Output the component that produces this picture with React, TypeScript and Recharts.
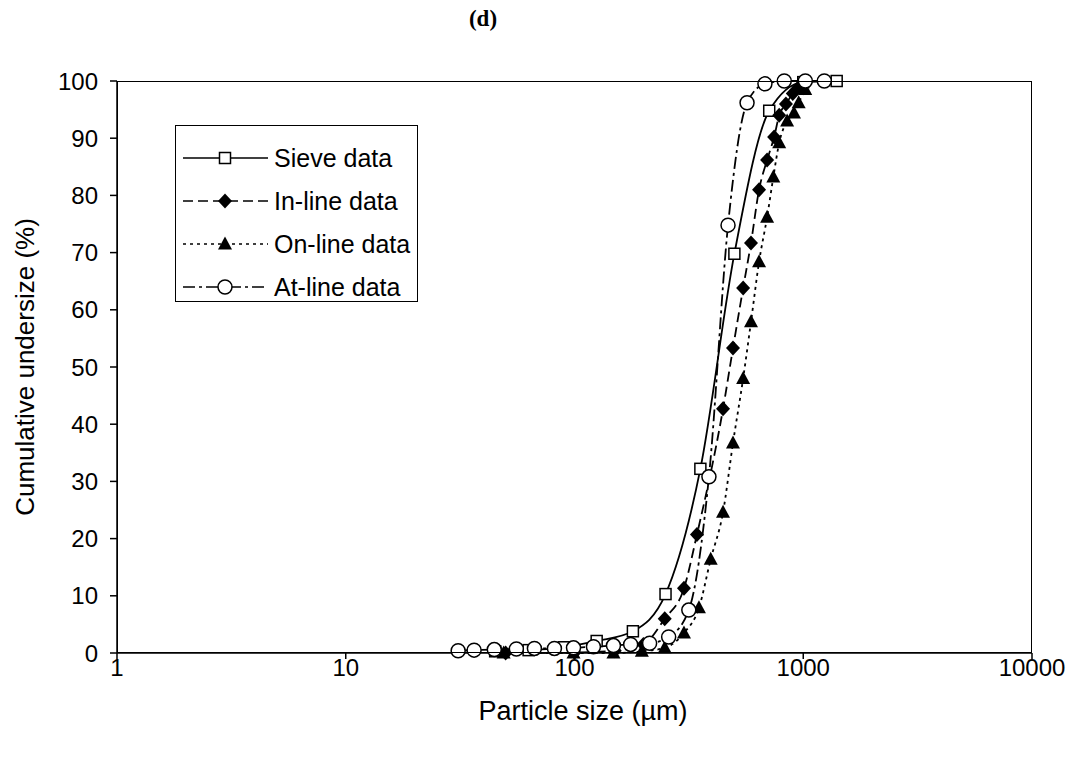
import React from "react";
import { Line, LineChart, XAxis, YAxis } from "recharts";

// particle sizes (µm) and cumulative undersize (%)
const sieveSize = [45, 63, 90, 125, 180, 250, 355, 500, 710, 1000, 1400];
const sieveValue = [0.3, 0.5, 1.0, 2.1, 3.8, 10.3, 32.2, 69.8, 94.8, 99.8, 100];

const inlineSize = [50, 100, 150, 200, 248, 301, 343, 446, 493, 546, 591, 641, 695, 746, 785, 840, 900, 960, 1020];
const inlineValue = [0, 0.1, 0.4, 1.5, 6.0, 11.3, 20.7, 42.7, 53.3, 63.8, 71.7, 81.0, 86.2, 90.2, 94.0, 96.0, 97.8, 99.0, 99.7];

const onlineSize = [49, 99, 148, 197, 248, 301, 350, 394, 446, 493, 546, 591, 641, 695, 740, 785, 850, 911, 955, 1020];
const onlineValue = [0, 0, 0, 0.3, 0.9, 3.5, 7.9, 16.4, 24.6, 36.7, 48.0, 57.9, 68.4, 76.2, 83.2, 89.2, 93.0, 94.4, 96.2, 98.5];

const atlineSize = [31, 36.4, 44.6, 55.7, 66.8, 81.7, 99, 121, 148, 176, 213, 258, 316, 387, 469, 568, 680, 826, 1021, 1236];
const atlineValue = [0.4, 0.5, 0.6, 0.7, 0.8, 0.8, 0.9, 1.1, 1.3, 1.5, 1.7, 2.8, 7.5, 30.8, 74.8, 96.2, 99.5, 100, 100, 100];

const xTicks = [1, 10, 100, 1000, 10000];
const yTicks = [0, 10, 20, 30, 40, 50, 60, 70, 80, 90, 100];

const toRows = (xs: number[], ys: number[]) => xs.map((x, i) => ({ x, y: ys[i] }));

const sieveData = toRows(sieveSize, sieveValue);
const inlineData = toRows(inlineSize, inlineValue);
const onlineData = toRows(onlineSize, onlineValue);
const atlineData = toRows(atlineSize, atlineValue);

const FONT = "Arial, 'Liberation Sans', sans-serif";

const Square = ({ cx, cy }: { cx: number; cy: number }) => (
  <rect x={cx - 5.5} y={cy - 5.5} width={11} height={11} fill="#fff" stroke="#000" strokeWidth={1.5} />
);
const Diamond = ({ cx, cy }: { cx: number; cy: number }) => (
  <polygon points={`${cx},${cy - 7.5} ${cx + 7},${cy} ${cx},${cy + 7.5} ${cx - 7},${cy}`} fill="#000" />
);
const Triangle = ({ cx, cy }: { cx: number; cy: number }) => (
  <polygon points={`${cx},${cy - 7.5} ${cx + 7},${cy + 5.5} ${cx - 7},${cy + 5.5}`} fill="#000" />
);
const Circle = ({ cx, cy }: { cx: number; cy: number }) => (
  <circle cx={cx} cy={cy} r={7} fill="#fff" stroke="#000" strokeWidth={1.5} />
);

const dotFor = (Shape: React.FC<{ cx: number; cy: number }>) => (props: any) => {
  const { cx, cy, index } = props;
  if (cx == null || cy == null) return <g key={index} />;
  return <Shape key={index} cx={cx} cy={cy} />;
};

const legendItems = [
  { name: "Sieve data", dash: undefined, Shape: Square },
  { name: "In-line data", dash: "10 5", Shape: Diamond },
  { name: "On-line data", dash: "3 4", Shape: Triangle },
  { name: "At-line data", dash: "12 4 3 4", Shape: Circle },
];

const App: React.FC = () => {
  return (
    <div style={{ position: "absolute", left: 0, top: 0, width: 1073, height: 758, background: "#fff", fontFamily: FONT }}>
      <div
        style={{
          position: "absolute",
          left: 0,
          width: 966,
          top: 6,
          textAlign: "center",
          fontFamily: "'Liberation Serif', 'Times New Roman', serif",
          fontWeight: "bold",
          fontSize: 23,
        }}
      >
        (d)
      </div>
      <LineChart width={1073} height={758} margin={{ top: 81, right: 41, bottom: 45, left: 57 }}>
        <XAxis
          dataKey="x"
          type="number"
          scale="log"
          domain={[1, 10000]}
          ticks={xTicks}
          allowDataOverflow
          height={60}
          stroke="#000"
          strokeWidth={1.5}
          tickSize={6}
          tickMargin={0}
          tick={{ fill: "#000", fontSize: 24, fontFamily: FONT }}
        />
        <YAxis
          dataKey="y"
          type="number"
          domain={[0, 100]}
          ticks={yTicks}
          width={60}
          stroke="#000"
          strokeWidth={1.5}
          tickSize={7}
          tickMargin={12}
          tick={{ fill: "#000", fontSize: 24, fontFamily: FONT }}
        />
        <Line
          data={sieveData}
          dataKey="y"
          type="monotone"
          stroke="#000"
          strokeWidth={1.8}
          dot={dotFor(Square)}
          isAnimationActive={false}
        />
        <Line
          data={inlineData}
          dataKey="y"
          type="monotone"
          stroke="#000"
          strokeWidth={1.8}
          strokeDasharray="10 5"
          dot={dotFor(Diamond)}
          isAnimationActive={false}
        />
        <Line
          data={onlineData}
          dataKey="y"
          type="monotone"
          stroke="#000"
          strokeWidth={1.8}
          strokeDasharray="3 4"
          dot={dotFor(Triangle)}
          isAnimationActive={false}
        />
        <Line
          data={atlineData}
          dataKey="y"
          type="monotone"
          stroke="#000"
          strokeWidth={1.8}
          strokeDasharray="12 4 3 4"
          dot={dotFor(Circle)}
          isAnimationActive={false}
        />
      </LineChart>
      {/* plot frame */}
      <div
        style={{
          position: "absolute",
          left: 117,
          top: 81,
          width: 915,
          height: 572,
          border: "1.5px solid #000",
          boxSizing: "border-box",
          pointerEvents: "none",
        }}
      />
      {/* legend */}
      <div
        style={{
          position: "absolute",
          left: 175,
          top: 125,
          width: 243,
          height: 177,
          border: "1.5px solid #000",
          boxSizing: "border-box",
          background: "#fff",
        }}
      >
        {legendItems.map((item, i) => (
          <div
            key={item.name}
            style={{ position: "absolute", left: 0, top: 17 + i * 43, height: 30, display: "flex", alignItems: "center" }}
          >
            <svg width={93} height={30} style={{ display: "block" }}>
              <line x1={7} x2={92} y1={15} y2={15} stroke="#000" strokeWidth={1.5} strokeDasharray={item.dash} />
              <item.Shape cx={49} cy={15} />
            </svg>
            <span style={{ fontSize: 25, marginLeft: 5, color: "#000", whiteSpace: "nowrap" }}>{item.name}</span>
          </div>
        ))}
      </div>
      <div style={{ position: "absolute", left: 0, width: 1166, top: 696, textAlign: "center", fontSize: 27 }}>
        Particle size (µm)
      </div>
      <div
        style={{
          position: "absolute",
          left: 25,
          top: 367,
          transform: "translate(-50%, -50%) rotate(-90deg)",
          whiteSpace: "nowrap",
          fontSize: 26,
        }}
      >
        Cumulative undersize (%)
      </div>
    </div>
  );
};

export default App;
